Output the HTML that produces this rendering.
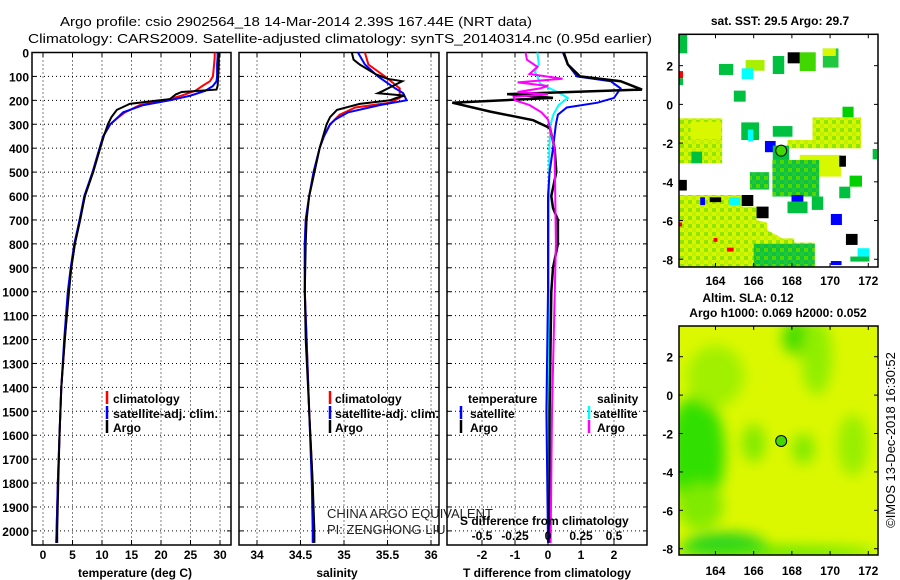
<!DOCTYPE html>
<html><head><meta charset="utf-8">
<style>
html,body{margin:0;padding:0;background:#fff;}
svg{display:block;font-family:"Liberation Sans",Arial,sans-serif;}
.b{font-weight:bold;font-size:12px;}
.t{font-size:13px;}
</style></head>
<body>
<svg id="chart" width="900" height="580" viewBox="0 0 900 580">
<defs>
  <pattern id="mix" width="8" height="8" patternUnits="userSpaceOnUse">
    <rect width="8" height="8" fill="#d4f600"/>
    <rect x="0" y="0" width="4" height="4" fill="#90e600"/>
    <rect x="4" y="4" width="4" height="4" fill="#c0f000"/>
  </pattern>
  <pattern id="mixg" width="8" height="8" patternUnits="userSpaceOnUse">
    <rect width="8" height="8" fill="#10c040"/>
    <rect x="4" y="0" width="4" height="4" fill="#50d800"/>
    <rect x="0" y="4" width="4" height="4" fill="#20c838"/>
  </pattern>
  <clipPath id="m1clip"><rect x="679" y="34" width="199" height="233"/></clipPath>
  <clipPath id="m2clip"><rect x="679" y="326" width="198" height="229"/></clipPath>
  <filter id="blur" x="-20%" y="-20%" width="140%" height="140%"><feGaussianBlur stdDeviation="7"/></filter>
</defs>
<g id="titles">
  <text x="60" y="26" class="t" textLength="472" lengthAdjust="spacingAndGlyphs">Argo profile: csio 2902564_18 14-Mar-2014 2.39S 167.44E (NRT data)</text>
  <text x="28" y="43" class="t" textLength="624" lengthAdjust="spacingAndGlyphs">Climatology: CARS2009. Satellite-adjusted climatology: synTS_20140314.nc (0.95d earlier)</text>
</g>
<g id="panels"></g>
<g id="maps"></g>
</svg>
<script>
// ---------- profile data ----------
const depthTArgo = [0,20,50,100,140,155,165,175,195,205,215,240,270,300,350,400,450,500,600,700,800,900,1000,1200,1400,1600,1800,2000,2050];
const tempArgo   = [29.9,29.8,29.8,29.7,29.6,29.4,23.5,22.5,21.5,18,14.7,12.5,11.6,11.0,10.3,9.7,9.1,8.5,7.1,6.3,5.4,4.8,4.4,3.7,3.1,2.8,2.6,2.4,2.4];
const depthTClim = [0,20,50,100,120,140,160,180,200,220,250,280,300,350,400,450,500,600,700,800,900,1000,1200,1400,1600,1800,2000,2050];
const tempClim   = [29.1,29.1,29.0,28.8,28.3,27.0,25.8,23.5,20.7,16.4,13.9,12.3,11.4,10.2,9.6,9.0,8.4,7.1,6.2,5.4,4.8,4.3,3.7,3.1,2.8,2.5,2.3,2.2];
const tempSat    = [29.6,29.6,29.5,29.5,29.4,28.8,27.5,25.0,21.5,17.0,13.6,12.3,11.4,10.2,9.6,9.0,8.4,7.0,6.2,5.3,4.7,4.2,3.6,3.1,2.8,2.5,2.3,2.3];

const depthSArgo = [0,30,50,90,110,120,140,160,170,180,190,200,215,240,270,300,350,400,500,600,700,800,1000,1200,1500,1800,2000,2050];
const salArgo    = [35.09,35.11,35.18,35.36,35.5,35.67,35.56,35.45,35.39,35.7,35.6,35.53,35.18,34.92,34.84,34.80,34.76,34.72,34.66,34.60,34.57,34.56,34.55,34.56,34.6,34.64,34.66,34.66];
const depthSClim = [0,50,100,150,190,210,230,260,300,350,400,500,600,700,800,1000,1200,1500,1800,2000,2050];
const salClim    = [35.24,35.28,35.47,35.64,35.64,35.53,35.13,34.95,34.84,34.77,34.72,34.66,34.6,34.56,34.55,34.55,34.57,34.6,34.64,34.65,34.65];
const depthSSat  = [0,50,100,150,170,200,220,250,280,300,350,400,500,600,700,800,1000,1200,1500,1800,2000,2050];
const salSat     = [35.16,35.24,35.39,35.59,35.68,35.72,35.41,35.05,34.9,34.84,34.77,34.72,34.65,34.6,34.56,34.55,34.55,34.57,34.6,34.63,34.64,34.64];

const depthDTSat  = [0,50,100,120,150,190,210,230,260,300,400,500,600,1000,1500,2050];
const dTSat       = [0.45,0.6,0.88,1.9,2.2,2.0,1.5,0.57,0.3,0.24,0.15,0.05,0,0,-0.05,0];
const depthDTArgo = [0,50,100,120,155,174,190,210,247,283,316,400,500,600,650,700,800,900,1000,1500,2050];
const dTArgo      = [0.48,0.6,0.97,2.2,2.85,-1.24,0.15,-2.9,-1.75,-0.45,0.06,0.2,0.25,0.1,0.15,0.3,0.3,0.15,0.1,0.05,0.05];
const depthDSArgo = [0,30,60,90,110,125,140,150,165,175,185,200,220,250,280,400,800,1500,2050];
const dSArgo      = [-0.17,-0.16,-0.08,-0.14,0.11,-0.23,0,-0.06,-0.23,0,-0.26,-0.25,-0.14,-0.05,0,0.05,0.06,0.03,0.02];
const depthDSSat  = [0,50,80,100,130,170,190,220,260,300,400,2050];
const dSSat       = [-0.08,-0.07,-0.1,-0.08,-0.06,0.09,0.15,0.08,0.04,0.02,0.01,0];

const depthTicks = [0,100,200,300,400,500,600,700,800,900,1000,1100,1200,1300,1400,1500,1600,1700,1800,1900,2000];
const tempTicks = [0,5,10,15,20,25,30];
const salTicks = [34,34.5,35,35.5,36];
const salTickLabels = ["34","34.5","35","35.5","36"];
const dTTicks = [-2,-1,0,1,2];
const dSTicks = [-0.5,-0.25,0,0.25,0.5];
const dSTickLabels = ["-0.5","-0.25","0","0.25","0.5"];

// ---------- map data ----------
const lonTicks = [164,166,168,170,172];
const latTicks = [2,0,-2,-4,-6,-8];
const argoLon = 167.44, argoLat = -2.39;
const sstCells = [
 [162.09,3.62,162.52,2.64,"#00c040"],[162.09,1.72,162.30,1.35,"#ff0000"],[162.09,1.35,162.3,1.0,"#00c040"],
 [164.18,2.09,164.93,1.52,"#00c040"],[165.58,2.29,166.57,1.74,"#a8f000"],[165.37,1.86,165.98,1.31,"#00ffff"],
 [167.0,2.5,167.6,1.57,"#00c040"],[168.41,2.69,169.25,1.72,"#40d800"],[167.78,2.69,168.41,2.12,"#000000"],
 [169.62,2.89,170.44,1.9,"#20c840"],[169.62,2.89,170.3,2.5,"#d8f800"],
 [164.96,0.71,165.58,0.14,"#00c040"],[170.65,-0.12,171.23,-0.67,"#00d000"],
 [162.09,-0.72,164.35,-3.04,"url(#mix)"],[162.7,-0.9,164.3,-1.8,"#d8f800"],
 [165.35,-0.93,166.28,-1.84,"#00c040"],[165.7,-1.3,165.98,-1.9,"#00ffff"],
 [167.0,-1.12,168.03,-1.67,"#00c040"],[169.08,-0.67,171.62,-1.84,"url(#mix)"],
 [167.77,-1.84,171.62,-2.27,"url(#mix)"],[168.41,-2.61,170.57,-3.73,"#d8f800"],
 [166.98,-2.87,169.43,-4.76,"url(#mixg)"],[166.59,-1.89,167.15,-2.47,"#0000ff"],
 [167.0,-2.13,167.85,-2.87,"#00c040"],[170.48,-2.65,170.83,-3.22,"#000000"],
 [171.02,-3.68,171.67,-4.25,"#00d000"],[170.48,-4.25,171.06,-4.85,"#00c040"],
 [167.98,-4.68,168.6,-5.07,"#0000ff"],[167.77,-5.02,168.82,-5.62,"#00c040"],
 [169.04,-4.76,169.64,-5.45,"#00c040"],[170.04,-5.66,170.62,-6.23,"#0000ff"],
 [170.83,-6.69,171.44,-7.26,"#000000"],[171.44,-7.43,172.06,-7.86,"#00ffff"],
 [171.06,-7.86,172.06,-8.12,"#00c040"],[170.04,-8.09,170.6,-8.3,"#0000ff"],
 [162.09,-3.9,162.5,-4.45,"#000000"],[165.8,-3.5,166.8,-4.4,"url(#mixg)"],
 [172.23,-2.3,172.46,-2.84,"#00c040"],[162.74,-2.44,163.3,-3.04,"#00c040"],
 [165.37,-4.68,165.98,-5.25,"#000000"],[166.15,-5.28,166.78,-5.88,"#000000"]
];
const sstRegionLon = [162.09,165.35,165.35,166.15,166.15,166.71,166.71,167.5,168.12,168.12,169.2,169.2,162.09];
const sstRegionLat = [-4.68,-4.68,-5.28,-5.28,-5.97,-6.11,-6.49,-6.92,-6.92,-7.14,-7.14,-8.4,-8.4];
const sstEdgeCells = [
 [163.7,-4.8,164.3,-5.05,"#000000"],[164.7,-4.8,165.3,-5.2,"#00ffff"],[163.2,-4.8,163.45,-5.2,"#0000ff"],
 [164.6,-7.4,164.95,-7.6,"#ff0000"],[163.9,-6.9,164.1,-7.1,"#ff0000"],[162.09,-6.1,162.25,-6.3,"#ff0000"],
 [166.0,-7.2,169.2,-8.4,"url(#mixg)"]
];
const slaBlobs = [
 [163.0,-3.0,1.5,3.0,"#30e000"],[164.5,-7.9,2.2,0.7,"#10d020"],[167.0,-8.2,5.5,0.3,"#50e400"],
 [168.3,3.0,0.8,0.9,"#40dc00"],[164.0,1.0,1.5,1.6,"#a0f000"],[169.3,2.0,0.8,2.0,"#90ee00"],
 [166.0,-2.5,0.6,1.0,"#80ea00"],[168.6,-2.8,0.6,0.8,"#80ea00"],[171.2,-2.6,0.8,1.6,"#98ee00"],
 [163.2,-5.8,1.2,1.2,"#80ea00"]
];

const NS = "http://www.w3.org/2000/svg";
function mk(tag, attrs, parent){const e=document.createElementNS(NS,tag);for(const k in attrs)e.setAttribute(k,attrs[k]);if(parent)parent.appendChild(e);return e;}

const yD = d => 52.5 + d*0.2392;
const xT = t => 43 + 5.9*t;
const xS = s => 257 + 87*(s-34);
const xDT = d => 548 + 33*d;
const xDS = s => 548 + 132*s;

const panels = document.getElementById('panels');

function panelFrame(name, x0, x1, gridX){
  const g = mk('g',{},panels);
  
  
  depthTicks.forEach(d=>{
    if(d===0) return;
    const l = mk('line',{x1:x0,x2:x1,y1:yD(d),y2:yD(d),stroke:'#000','stroke-width':1,'stroke-dasharray':'1,3'},g);
    
    
    mk('line',{x1:x0,x2:x0+4,y1:yD(d),y2:yD(d),stroke:'#000'},g);
    mk('line',{x1:x1-4,x2:x1,y1:yD(d),y2:yD(d),stroke:'#000'},g);
  });
  gridX.forEach(x=>{
    const l = mk('line',{x1:x,x2:x,y1:52.5,y2:545,stroke:'#000','stroke-width':1,'stroke-dasharray':'1,3'},g);
    
    
    mk('line',{x1:x,x2:x,y1:52.5,y2:57,stroke:'#000'},g);
    mk('line',{x1:x,x2:x,y1:540,y2:545,stroke:'#000'},g);
  });
  const r = mk('rect',{x:x0,y:52.5,width:x1-x0,height:492.5,fill:'none',stroke:'#000','stroke-width':1.5},g);
  
  
  return g;
}
function line(g, name, depths, vals, fx, color, w){
  const pts = depths.map((d,i)=>fx(vals[i]).toFixed(1)+','+yD(d).toFixed(1)).join(' ');
  const p = mk('polyline',{points:pts,fill:'none',stroke:color,'stroke-width':w||2,'stroke-linejoin':'miter'},g);
  
  
}
function txt(g, name, x, y, s, anchor, cls, extra){
  const t = mk('text',Object.assign({x:x,y:y,'text-anchor':anchor||'start','class':cls||'b'},extra||{}),g);
  t.textContent = s;
  
  
  return t;
}
function seg(g, name, x, y, color){
  const l = mk('line',{x1:x,x2:x,y1:y-12,y2:y+1,stroke:color,'stroke-width':2.5},g);
  
  
}

const dl = mk('g',{},panels);


depthTicks.forEach(d=>txt(dl,'depth-tick-label',29,yD(d)+5,String(d),'end'));

// Panel 1
const p1 = panelFrame('temperature-panel',32,231,tempTicks.map(xT));
line(p1,'temperature-climatology-line',depthTClim,tempClim,xT,'#ff0000');
line(p1,'temperature-satellite-line',depthTClim,tempSat,xT,'#0000ff');
line(p1,'temperature-argo-line',depthTArgo,tempArgo,xT,'#000000');
tempTicks.forEach(t=>txt(p1,'temperature-tick-label',xT(t),559,String(t),'middle'));
txt(p1,'temperature-axis-title',135,577,'temperature (deg C)','middle');
seg(p1,'legend-climatology-swatch',107,403,'#ff0000');
txt(p1,'legend-climatology',113,403,'climatology');
seg(p1,'legend-satellite-swatch',107,418,'#0000ff');
txt(p1,'legend-satellite',113,418,'satellite-adj. clim.',null,null,{textLength:105,lengthAdjust:'spacingAndGlyphs'});
seg(p1,'legend-argo-swatch',107,432,'#000000');
txt(p1,'legend-argo',113,432,'Argo');

// Panel 2
const p2 = panelFrame('salinity-panel',239,439,salTicks.map(xS));
line(p2,'salinity-climatology-line',depthSClim,salClim,xS,'#ff0000');
line(p2,'salinity-satellite-line',depthSSat,salSat,xS,'#0000ff');
line(p2,'salinity-argo-line',depthSArgo,salArgo,xS,'#000000');
salTicks.forEach((s,i)=>txt(p2,'salinity-tick-label',xS(s),559,salTickLabels[i],'middle'));
txt(p2,'salinity-axis-title',337,577,'salinity','middle');
seg(p2,'legend-climatology-swatch',330,403,'#ff0000');
txt(p2,'legend-climatology',335,403,'climatology');
seg(p2,'legend-satellite-swatch',330,418,'#0000ff');
txt(p2,'legend-satellite',335,418,'satellite-adj. clim.',null,null,{textLength:104,lengthAdjust:'spacingAndGlyphs'});
seg(p2,'legend-argo-swatch',330,432,'#000000');
txt(p2,'legend-argo',335,432,'Argo');
txt(p2,'credit-line-1',327,518,'CHINA ARGO EQUIVALENT','start','t',{fill:'#222','font-size':'12'});
txt(p2,'credit-line-2',327,534,'PI: ZENGHONG LIU','start','t',{fill:'#222','font-size':'12'});

// Panel 3
const p3 = panelFrame('difference-panel',447,647,dTTicks.map(xDT));
line(p3,'salinity-satellite-diff-line',depthDSSat,dSSat,xDS,'#00ffff');
line(p3,'temperature-satellite-diff-line',depthDTSat,dTSat,xDT,'#0000ff');
line(p3,'temperature-argo-diff-line',depthDTArgo,dTArgo,xDT,'#000000',2.5);
line(p3,'salinity-argo-diff-line',depthDSArgo,dSArgo,xDS,'#ff00ff');
dTTicks.forEach(t=>txt(p3,'t-diff-tick-label',xDT(t),559,String(t),'middle'));
dSTicks.forEach((s,i)=>txt(p3,'s-diff-tick-label',xDS(s),540,dSTickLabels[i],'middle'));
txt(p3,'s-diff-axis-title',460,525,'S difference from climatology');
txt(p3,'t-diff-axis-title',547,577,'T difference from climatology','middle');
txt(p3,'legend-temperature-heading',468,403,'temperature');
seg(p3,'legend-t-satellite-swatch',461,418,'#0000ff');
txt(p3,'legend-t-satellite',470,418,'satellite');
seg(p3,'legend-t-argo-swatch',461,432,'#000000');
txt(p3,'legend-t-argo',470,432,'Argo');
txt(p3,'legend-salinity-heading',597,403,'salinity');
seg(p3,'legend-s-satellite-swatch',589,418,'#00ffff');
txt(p3,'legend-s-satellite',593,418,'satellite');
seg(p3,'legend-s-argo-swatch',589,432,'#ff00ff');
txt(p3,'legend-s-argo',597,432,'Argo');

// ---------- maps ----------
const maps = document.getElementById('maps');
const mx = lon => 679 + (lon-162.09)*19.1;
const my1 = lat => 34.3 + (3.62-lat)*19.36;
const my2 = lat => 326 + (3.6-lat)*19.2;

function mapAxes(g, top, bottom, myf, labelY){
  latTicks.forEach(l=>{
    txt(g,'latitude-tick-label',673,myf(l)+5,String(l),'end');
    mk('line',{x1:679,x2:683,y1:myf(l),y2:myf(l),stroke:'#000'},g);
    mk('line',{x1:874,x2:878,y1:myf(l),y2:myf(l),stroke:'#000'},g);
  });
  lonTicks.forEach(l=>{
    txt(g,'longitude-tick-label',mx(l),labelY,String(l),'middle');
    mk('line',{x1:mx(l),x2:mx(l),y1:top,y2:top+4,stroke:'#000'},g);
    mk('line',{x1:mx(l),x2:mx(l),y1:bottom-4,y2:bottom,stroke:'#000'},g);
  });
  const r = mk('rect',{x:679,y:top,width:199,height:bottom-top,fill:'none',stroke:'#000','stroke-width':1.5},g);
  
  
  const c = mk('circle',{cx:mx(argoLon),cy:myf(argoLat),r:5.5,fill:'#40d800',stroke:'#000','stroke-width':1},g);
  
  
}

const m1 = mk('g',{},maps);


txt(m1,'sst-map-title',780,25,'sat. SST: 29.5 Argo: 29.7','middle');
const m1c = mk('g',{'clip-path':'url(#m1clip)'},m1);
const regPts = sstRegionLon.map((l,i)=>mx(l).toFixed(1)+','+my1(sstRegionLat[i]).toFixed(1)).join(' ');
const reg = mk('polygon',{points:regPts,fill:'url(#mix)'},m1c);


sstCells.concat(sstEdgeCells).forEach(c=>{
  const r = mk('rect',{x:mx(c[0]),y:my1(c[1]),width:mx(c[2])-mx(c[0]),height:my1(c[3])-my1(c[1]),fill:c[4]},m1c);
  
  
});
mapAxes(m1,34.3,267,my1,285);

const m2 = mk('g',{},maps);


txt(m2,'sla-map-title-1',748,302,'Altim. SLA: 0.12','middle');
txt(m2,'sla-map-title-2',778,317,'Argo h1000: 0.069 h2000: 0.052','middle');
const m2c = mk('g',{'clip-path':'url(#m2clip)'},m2);
const bg = mk('rect',{x:679,y:326,width:199,height:229,fill:'#dcf800'},m2c);


const bl = mk('g',{filter:'url(#blur)'},m2c);
slaBlobs.forEach(b=>{
  const e = mk('ellipse',{cx:mx(b[0]),cy:my2(b[1]),rx:b[2]*19.1,ry:b[3]*19.2,fill:b[4]},bl);
  
  
});
mapAxes(m2,326,555,my2,575);

txt(maps,'imos-timestamp',0,0,'©IMOS 13-Dec-2018 16:30:52','middle','t',{transform:'translate(895,440) rotate(-90)','font-size':'12'});
</script>
</body></html>
